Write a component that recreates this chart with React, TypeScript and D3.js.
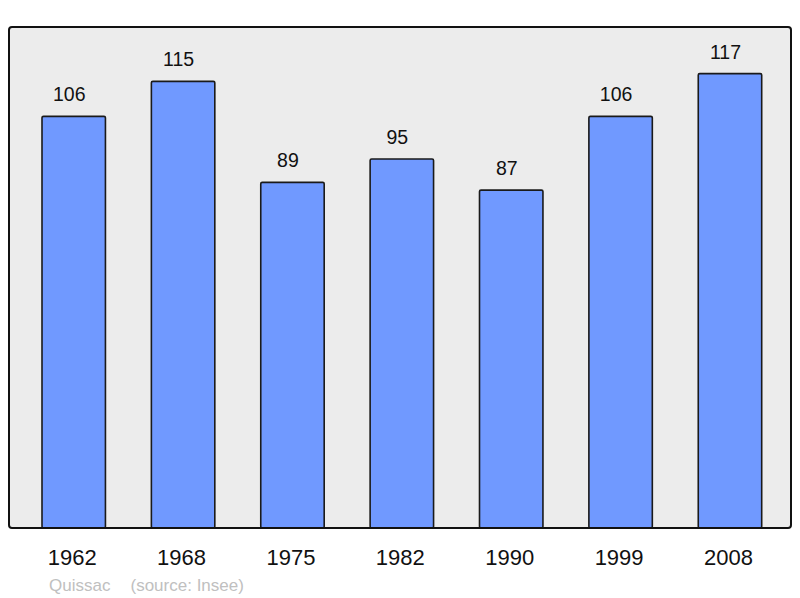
import * as d3 from "d3";

const years = ["1962", "1968", "1975", "1982", "1990", "1999", "2008"];
const population = [106, 115, 89, 95, 87, 106, 117];
const place = "Quissac";
const source = "(source: Insee)";

const W = 800;
const H = 598;
const frame = { left: 9, top: 27, right: 791, bottom: 528 };

const App = () => {
  const x = d3
    .scaleBand<string>()
    .domain(years)
    .range([42, 761.7])
    .paddingInner(0.42)
    .paddingOuter(0);

  const y = d3.scaleLinear().domain([0, 129]).range([frame.bottom, frame.top]);

  const font = "'Liberation Sans', Arial, sans-serif";

  return (
    <svg
      width={W}
      height={H}
      style={{ position: "absolute", left: 0, top: 0 }}
      fontFamily={font}
    >
      <rect x={0} y={0} width={W} height={H} fill="#ffffff" />
      <rect
        x={frame.left}
        y={frame.top}
        width={frame.right - frame.left}
        height={frame.bottom - frame.top}
        rx={3}
        fill="#ececec"
        stroke="none"
      />
      {population.map((v, i) => {
        const bx = x(years[i])!;
        const bw = x.bandwidth();
        return (
          <g key={years[i]}>
            <rect
              x={bx}
              y={y(v)}
              width={bw}
              height={frame.bottom - y(v)}
              rx={1.5}
              fill="#7099ff"
              stroke="#1a1a1a"
              strokeWidth={1.6}
            />
            <text
              x={bx + bw / 2 - 4.5}
              y={y(v) - 15}
              textAnchor="middle"
              fontSize={19.5}
              fill="#111"
            >
              {v}
            </text>
            <text
              x={bx + bw / 2 - 1.5}
              y={565}
              textAnchor="middle"
              fontSize={22}
              fill="#111"
            >
              {years[i]}
            </text>
          </g>
        );
      })}
      <rect
        x={frame.left}
        y={frame.top}
        width={frame.right - frame.left}
        height={frame.bottom - frame.top}
        rx={3}
        fill="none"
        stroke="#111"
        strokeWidth={2}
      />
      <text x={49} y={590.5} fontSize={17} fill="#c0c0c0">
        {place}
      </text>
      <text x={130.5} y={590.5} fontSize={17} fill="#c0c0c0">
        {source}
      </text>
    </svg>
  );
};

export default App;
